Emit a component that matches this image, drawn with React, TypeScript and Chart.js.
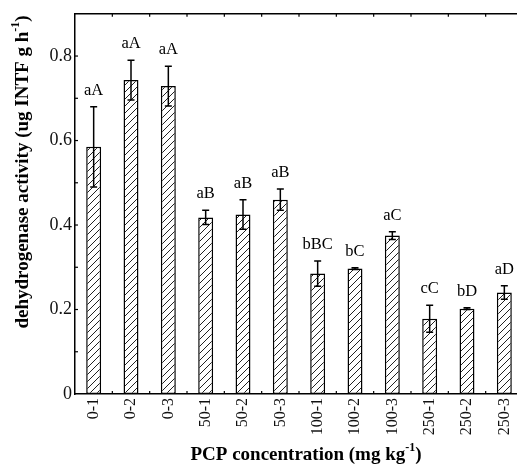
import React, { useEffect, useRef } from "react";
import { Chart, registerables } from "chart.js";

Chart.register(...registerables);

const categories = ["0-1", "0-2", "0-3", "50-1", "50-2", "50-3", "100-1", "100-2", "100-3", "250-1", "250-2", "250-3"];
const activity = [0.585, 0.743, 0.729, 0.418, 0.425, 0.460, 0.285, 0.297, 0.375, 0.178, 0.202, 0.240];
const errors = [0.095, 0.047, 0.047, 0.017, 0.035, 0.025, 0.030, 0.002, 0.009, 0.032, 0.002, 0.016];
const letters = ["aA", "aA", "aA", "aB", "aB", "aB", "bBC", "bC", "aC", "cC", "bD", "aD"];
const yTitle = "dehydrogenase activity (ug INTF g h";
const xTitle = "PCP concentration (mg kg";
const sup = "-1";

const SERIF = "'Liberation Serif', 'Times New Roman', serif";

function makePattern(ctx: CanvasRenderingContext2D) {
  const s = 7;
  const c = document.createElement("canvas");
  c.width = s;
  c.height = s;
  const g = c.getContext("2d")!;
  g.fillStyle = "#fff";
  g.fillRect(0, 0, s, s);
  g.strokeStyle = "#222";
  g.lineWidth = 1;
  g.beginPath();
  g.moveTo(-1, s + 1);
  g.lineTo(s + 1, -1);
  g.moveTo(-1, 1);
  g.lineTo(1, -1);
  g.moveTo(s - 1, s + 1);
  g.lineTo(s + 1, s - 1);
  g.stroke();
  return ctx.createPattern(c, "repeat")!;
}

const decorPlugin = {
  id: "decor",
  afterDatasetsDraw(chart: any) {
    const ctx: CanvasRenderingContext2D = chart.ctx;
    const { left, right, top, bottom } = chart.chartArea;
    const xs = chart.scales.x;
    const ys = chart.scales.y;
    const meta = chart.getDatasetMeta(0);
    ctx.save();
    ctx.strokeStyle = "#000";
    ctx.fillStyle = "#000";
    // top frame
    ctx.lineWidth = 1.5;
    ctx.beginPath();
    ctx.moveTo(left, top);
    ctx.lineTo(right + 10, top);
    ctx.stroke();
    // category boundary ticks (top & bottom)
    ctx.lineWidth = 1.2;
    const n = categories.length;
    const step = xs.getPixelForValue(1) - xs.getPixelForValue(0);
    for (let i = 0; i < n; i++) {
      const xx = xs.getPixelForValue(i) + step / 2;
      ctx.beginPath();
      ctx.moveTo(xx, top);
      ctx.lineTo(xx, top + 3);
      ctx.moveTo(xx, bottom);
      ctx.lineTo(xx, bottom - 3);
      ctx.stroke();
    }
    // y ticks inward (major + minor)
    for (let k = 1; k < 9; k++) {
      const y = ys.getPixelForValue(k / 10);
      ctx.beginPath();
      ctx.moveTo(left, y);
      ctx.lineTo(left + 3, y);
      ctx.stroke();
    }
    // error bars and letters
    ctx.lineWidth = 1.5;
    meta.data.forEach((bar: any, i: number) => {
      const x = bar.x;
      const yTop = ys.getPixelForValue(activity[i] + errors[i]);
      const yBot = ys.getPixelForValue(activity[i] - errors[i]);
      ctx.beginPath();
      ctx.moveTo(x, yTop);
      ctx.lineTo(x, yBot);
      ctx.moveTo(x - 3.5, yTop);
      ctx.lineTo(x + 3.5, yTop);
      ctx.moveTo(x - 3.5, yBot);
      ctx.lineTo(x + 3.5, yBot);
      ctx.stroke();
      ctx.font = `16.5px ${SERIF}`;
      ctx.textAlign = "center";
      ctx.textBaseline = "alphabetic";
      ctx.fillText(letters[i], x, yTop - 12);
    });
    // x title
    const big = `bold 19px ${SERIF}`;
    const small = `bold 12px ${SERIF}`;
    ctx.font = big;
    ctx.textBaseline = "alphabetic";
    const w1 = ctx.measureText(xTitle).width;
    ctx.font = small;
    const w2 = ctx.measureText(sup).width;
    ctx.font = big;
    const w3 = ctx.measureText(")").width;
    const total = w1 + w2 + w3;
    const sx = 306 - total / 2;
    const by = 460;
    ctx.textAlign = "left";
    ctx.fillText(xTitle, sx, by);
    ctx.font = small;
    ctx.fillText(sup, sx + w1, by - 9);
    ctx.font = big;
    ctx.fillText(")", sx + w1 + w2, by);
    // y title
    ctx.save();
    ctx.translate(28, 172);
    ctx.rotate(-Math.PI / 2);
    ctx.font = big;
    const v1 = ctx.measureText(yTitle).width;
    ctx.font = small;
    const v2 = ctx.measureText(sup).width;
    ctx.font = big;
    const v3 = ctx.measureText(")").width;
    const tt = v1 + v2 + v3;
    const s0 = -tt / 2;
    ctx.fillText(yTitle, s0, 0);
    ctx.font = small;
    ctx.fillText(sup, s0 + v1, -9);
    ctx.font = big;
    ctx.fillText(")", s0 + v1 + v2, 0);
    ctx.restore();
    ctx.restore();
  },
};

export default function App() {
  const ref = useRef<HTMLCanvasElement>(null);
  useEffect(() => {
    const canvas = ref.current!;
    const ctx = canvas.getContext("2d")!;
    const pattern = makePattern(ctx);
    const chart = new Chart(canvas, {
      type: "bar",
      data: {
        labels: categories,
        datasets: [
          {
            data: activity,
            backgroundColor: pattern as any,
            borderColor: "#000",
            borderWidth: 1.5,
            borderSkipped: false,
            categoryPercentage: 1,
            barPercentage: 0.4,
          },
        ],
      },
      options: {
        responsive: false,
        animation: false,
        layout: { padding: { left: 0, top: 13, right: 7, bottom: 0 } },
        plugins: { legend: { display: false }, tooltip: { enabled: false }, title: { display: false } },
        scales: {
          x: {
            grid: { display: false, drawTicks: false },
            border: { display: true, color: "#000", width: 1.5 },
            ticks: {
              color: "#111",
              font: { family: SERIF, size: 16 },
              minRotation: 90,
              maxRotation: 90,
              padding: 4,
            },
            afterFit: (s: any) => {
              s.height = 71;
            },
          },
          y: {
            min: 0,
            max: 0.9,
            grid: { display: false, drawTicks: false },
            border: { display: true, color: "#000", width: 1.5 },
            ticks: {
              stepSize: 0.2,
              color: "#111",
              font: { family: SERIF, size: 18 },
              padding: 3,
            },
            afterBuildTicks: (s: any) => {
              s.ticks = s.ticks.filter((t: any) => t.value <= 0.81);
            },
            afterFit: (s: any) => {
              s.width = 75;
            },
          },
        },
      },
      plugins: [decorPlugin],
    });
    return () => chart.destroy();
  }, []);
  return (
    <div style={{ position: "absolute", left: 0, top: 0, width: 517, height: 465, overflow: "hidden", background: "#fff" }}>
      <canvas ref={ref} width={530} height={465} style={{ display: "block", width: 530, height: 465 }} />
    </div>
  );
}
